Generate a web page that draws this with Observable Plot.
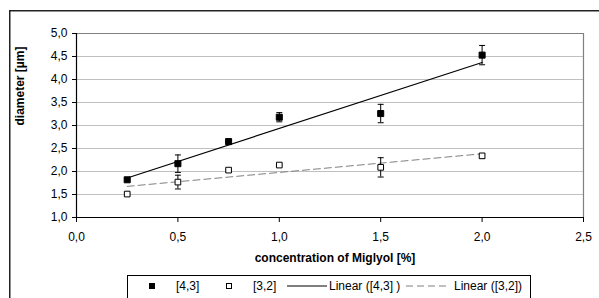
<!DOCTYPE html>
<html>
<head>
<meta charset="utf-8">
<script src="https://cdn.jsdelivr.net/npm/d3@7"></script>
<script src="https://cdn.jsdelivr.net/npm/@observablehq/plot@0.6"></script>
<style>
  html, body { margin: 0; padding: 0; background: #fff; overflow: hidden; width: 599px; height: 298px; }
  #wrap { position: relative; width: 599px; height: 298px; overflow: hidden; font-family: "Liberation Sans", Arial, sans-serif; }
  #chart { position: absolute; left: 0; top: 0; }
  #legend { position: absolute; left: 127px; top: 275px; width: 404px; height: 40px; border: 1px solid #000; background: #fff; box-sizing: border-box; }
  #legend svg { position: absolute; left: 0; top: 0; }
</style>
</head>
<body>
<div id="wrap">
  <div id="chart"></div>
  <div id="legend"></div>
</div>
<script>
const concentration = [0.25, 0.5, 0.75, 1.0, 1.5, 2.0];
const diameter43 = [1.82, 2.17, 2.65, 3.18, 3.26, 4.53];
const error43 = [0.02, 0.19, 0.05, 0.10, 0.20, 0.21];
const diameter32 = [1.51, 1.77, 2.03, 2.14, 2.09, 2.34];
const error32 = [0.02, 0.15, 0.02, 0.02, 0.21, 0.05];
const xTicks = [0, 0.5, 1.0, 1.5, 2.0, 2.5];
const yTicks = [1.0, 1.5, 2.0, 2.5, 3.0, 3.5, 4.0, 4.5, 5.0];
const seriesNames = ["[4,3]", "[3,2]", "Linear ([4,3] )", "Linear ([3,2])"];
const xLabel = "concentration of Miglyol [%]";
const yLabel = "diameter [µm]";

const s43 = concentration.map((x, i) => ({x, y: diameter43[i], lo: diameter43[i] - error43[i], hi: diameter43[i] + error43[i]}));
const s32 = concentration.map((x, i) => ({x, y: diameter32[i], lo: diameter32[i] - error32[i], hi: diameter32[i] + error32[i]}));

const fmt = d => d.toFixed(1).replace(".", ",");
const capSymbol = { draw(ctx) { ctx.moveTo(-3, 0); ctx.lineTo(3, 0); } };

const errorMarks = (data) => [
  Plot.ruleX(data, {x: "x", y1: "lo", y2: "hi", stroke: "#000", strokeWidth: 1}),
  Plot.dot(data, {x: "x", y: "lo", symbol: capSymbol, stroke: "#000", fill: "none", strokeWidth: 1}),
  Plot.dot(data, {x: "x", y: "hi", symbol: capSymbol, stroke: "#000", fill: "none", strokeWidth: 1})
];

const chart = Plot.plot({
  width: 599,
  height: 298,
  marginLeft: 76,
  marginRight: 16,
  marginTop: 33,
  marginBottom: 81,
  style: { fontFamily: "'Liberation Sans', Arial, sans-serif", fontSize: "12px", color: "#000", background: "transparent" },
  x: { domain: [0, 2.5] },
  y: { domain: [1, 5] },
  marks: [
    Plot.gridY(yTicks.slice(1, -1), {stroke: "#c0c0c0", strokeOpacity: 1, strokeWidth: 1.2}),
    Plot.ruleY([5], {stroke: "#808080", strokeWidth: 1.2}),
    Plot.ruleX([2.5], {stroke: "#808080", strokeWidth: 1.2}),
    Plot.ruleX([0], {stroke: "#000", strokeWidth: 1.2}),
    Plot.ruleY([1], {stroke: "#000", strokeWidth: 1.2}),
    Plot.axisY({ticks: yTicks, tickFormat: fmt, tickSize: 4, tickPadding: 5, label: null, fontSize: 12}),
    Plot.axisX({ticks: xTicks, tickFormat: fmt, tickSize: 5, tickPadding: 10, label: null, fontSize: 12}),
    Plot.linearRegressionY(s32, {x: "x", y: "y", ci: 0, stroke: "#808080", strokeWidth: 1, strokeDasharray: "7,4"}),
    Plot.linearRegressionY(s43, {x: "x", y: "y", ci: 0, stroke: "#000", strokeWidth: 1.2}),
    ...errorMarks(s32),
    ...errorMarks(s43),
    Plot.dot(s32, {x: "x", y: "y", symbol: "square", r: 3.2, fill: "#fff", stroke: "#000", strokeWidth: 1}),
    Plot.dot(s43, {x: "x", y: "y", symbol: "square", r: 3.4, fill: "#000", stroke: "#000", strokeWidth: 1}),
    Plot.text([xLabel], {text: d => d, frameAnchor: "bottom", dx: 5, dy: 44, fontWeight: "bold", fontSize: 12}),
    Plot.text([yLabel], {text: d => d, frameAnchor: "left", dx: -56, rotate: -90, fontWeight: "bold", fontSize: 12})
  ]
});
// outer chart-area frame (top and left edges visible in the reference)
d3.select(chart).append("path")
  .attr("d", "M9.75,298V10.75H599")
  .attr("fill", "none").attr("stroke", "#222").attr("stroke-width", 1.5);
document.getElementById("chart").appendChild(chart);

// Legend
const lg = d3.select("#legend").append("svg").attr("width", 404).attr("height", 40)
  .style("font-family", "'Liberation Sans', Arial, sans-serif").style("font-size", "12px");
const ty = 10;
lg.append("rect").attr("x", 21).attr("y", ty - 3).attr("width", 6).attr("height", 6).attr("fill", "#000");
lg.append("text").attr("x", 48).attr("y", ty).attr("dy", "0.35em").text(seriesNames[0]);
lg.append("rect").attr("x", 98.5).attr("y", ty - 2.5).attr("width", 5).attr("height", 5).attr("fill", "#fff").attr("stroke", "#000");
lg.append("text").attr("x", 125).attr("y", ty).attr("dy", "0.35em").text(seriesNames[1]);
lg.append("line").attr("x1", 159).attr("x2", 199).attr("y1", ty).attr("y2", ty).attr("stroke", "#000").attr("stroke-width", 1);
lg.append("text").attr("x", 201).attr("y", ty).attr("dy", "0.35em").text(seriesNames[2]);
lg.append("line").attr("x1", 278).attr("x2", 322).attr("y1", ty).attr("y2", ty).attr("stroke", "#808080").attr("stroke-width", 1).attr("stroke-dasharray", "7,4");
lg.append("text").attr("x", 326).attr("y", ty).attr("dy", "0.35em").text(seriesNames[3]);
</script>
</body>
</html>
